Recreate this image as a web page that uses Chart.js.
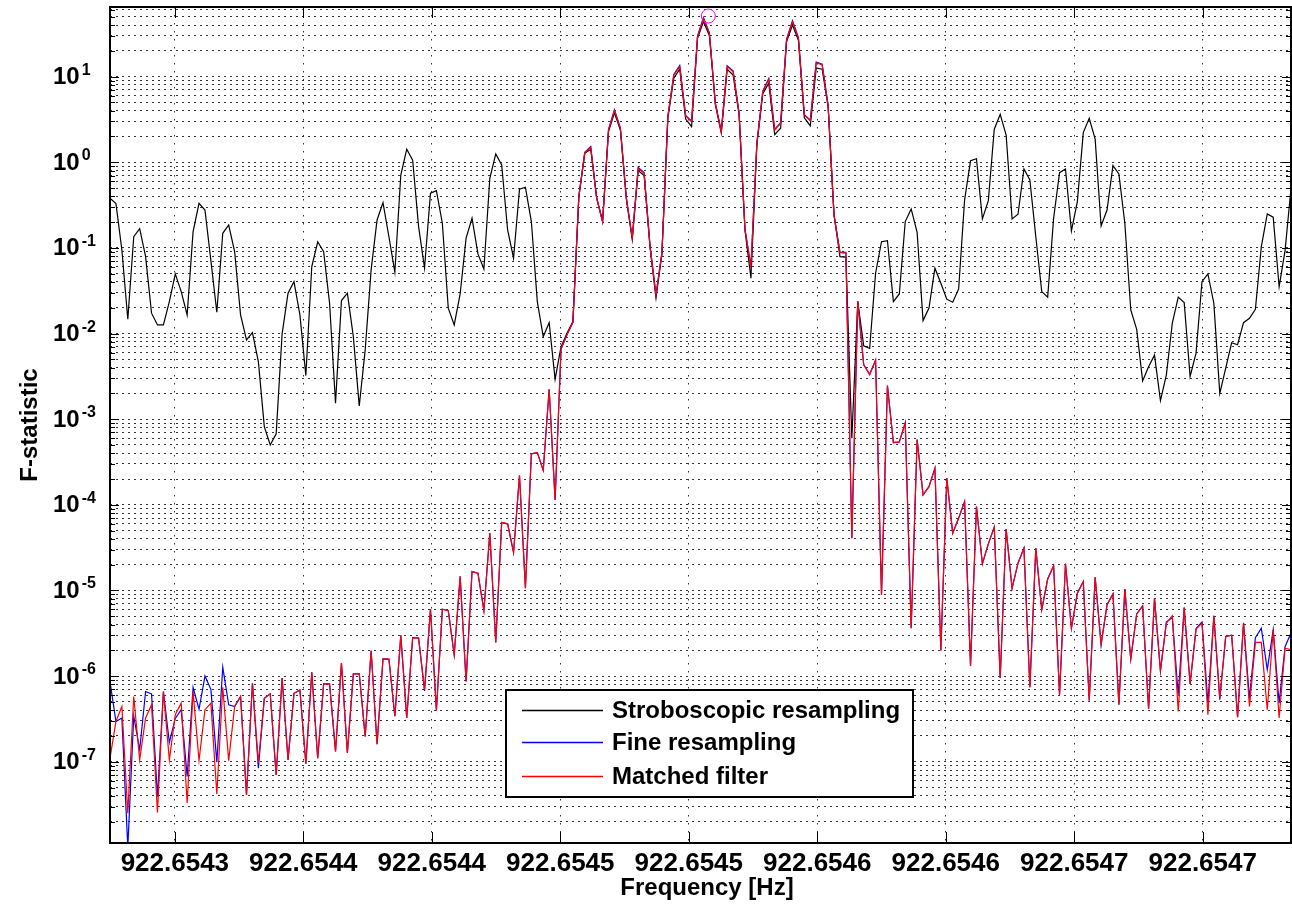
<!DOCTYPE html>
<html>
<head>
<meta charset="utf-8">
<title>F-statistic vs frequency</title>
<script src="https://cdn.jsdelivr.net/npm/chart.js@4.4.1/dist/chart.umd.min.js"></script>
<style>
  html, body { margin: 0; padding: 0; background: #fff; overflow: hidden; }
  #wrap { width: 1292px; height: 909px; }
  canvas { display: block; }
</style>
</head>
<body>
<div id="wrap"><canvas id="myChart" width="1292" height="909"></canvas></div>
<script>
// frequency grid: offset from 922.6543 Hz in micro-Hz
const freqStart = -25.24;
const freqStep = 2.3095;

// x tick positions (micro-Hz above 922.6543 Hz) and their printed labels
const tickOffsets = [0, 50, 100, 150, 200, 250, 300, 350, 400];
const tickLabels = ['922.6543', '922.6544', '922.6544', '922.6545', '922.6545',
                    '922.6546', '922.6546', '922.6547', '922.6547'];

const seriesNames = ['Stroboscopic resampling', 'Fine resampling', 'Matched filter'];
const seriesColors = ['#000000', '#0000ff', '#ff0000'];

// Stroboscopic resampling
const stroboValues = [
  0.38, 0.33, 0.095, 0.0147, 0.135, 0.168, 0.079, 0.0173, 0.0126, 0.0126,
  0.0236, 0.0497, 0.0309, 0.0165, 0.155, 0.332, 0.277, 0.071, 0.0177, 0.148,
  0.185, 0.0905, 0.0165, 0.00843, 0.01026, 0.00471, 0.00082, 0.0005, 0.000674, 0.0099,
  0.0296, 0.0404, 0.0165, 0.00323, 0.0605, 0.118, 0.0905, 0.0226, 0.00154, 0.0243,
  0.0296, 0.0092, 0.00143, 0.00644, 0.0553, 0.212, 0.338, 0.135, 0.052, 0.71,
  1.42, 1.06, 0.177, 0.058, 0.435, 0.466, 0.194, 0.0198, 0.0126, 0.029,
  0.13, 0.222, 0.085, 0.0568, 0.65, 1.25, 0.93, 0.162, 0.0758, 0.484,
  0.51, 0.203, 0.0236, 0.0092, 0.0134, 0.00293, 0.00704, 0.0101, 0.0138, 0.397,
  1.27, 1.42, 0.38, 0.203, 2.28, 3.79, 2.38, 0.37, 0.125, 0.8,
  0.70, 0.10, 0.026, 0.085, 3.3, 9.6, 12.2, 3.2, 2.6, 28,
  44, 30, 4.7, 2.2, 12.2, 10.4, 3.6, 0.16, 0.0443, 1.6,
  6.3, 8.4, 2.1, 2.5, 25.5, 40, 26.5, 3.3, 2.66, 12.6,
  12.2, 4.5, 0.243, 0.079, 0.078, 0.0006, 0.0236, 0.0072, 0.0067, 0.0506,
  0.118, 0.1216, 0.0236, 0.029, 0.203, 0.285, 0.152, 0.01416, 0.0198, 0.058,
  0.0387, 0.0252, 0.0232, 0.0332, 0.363, 1.04, 1.10, 0.218, 0.356, 2.43,
  3.63, 2.08, 0.218, 0.247, 0.835, 0.621, 0.135, 0.0309, 0.0266, 0.222,
  0.756, 0.835, 0.158, 0.347, 2.22, 3.26, 1.86, 0.18, 0.277, 0.912,
  0.73, 0.194, 0.0189, 0.0112, 0.0028, 0.0041, 0.0056, 0.00165, 0.0033, 0.0132,
  0.0266, 0.023, 0.00315, 0.0059, 0.0404, 0.0497, 0.0226, 0.0020, 0.00394, 0.0078,
  0.0074, 0.0134, 0.0151, 0.0192, 0.1035, 0.249, 0.228, 0.0353, 0.093, 0.497
];

// Fine resampling
const fineValues = [
  8.6e-7, 2.95e-7, 3.24e-7, 1.0e-8, 3.4e-7, 1.38e-7, 6.6e-7, 6.2e-7, 3.9e-8, 6.6e-7,
  1.68e-7, 3.2e-7, 4.05e-7, 6.75e-8, 7.4e-7, 4.1e-7, 1.0e-6, 7.0e-7, 9.9e-8, 1.27e-6,
  4.63e-7, 4.42e-7, 5.78e-7, 4.1e-8, 8.3e-7, 8.4e-8, 5.5e-7, 6.2e-7, 7.0e-8, 9.5e-7,
  1.05e-7, 6.3e-7, 6.9e-7, 9.5e-8, 1.11e-6, 1.1e-7, 8.1e-7, 8.1e-7, 1.32e-7, 1.42e-6,
  1.27e-7, 1.06e-6, 1.06e-6, 1.97e-7, 1.98e-6, 1.6e-7, 1.59e-6, 1.58e-6, 3.4e-7, 3.0e-6,
  3.24e-7, 2.82e-6, 2.78e-6, 6.7e-7, 6.05e-6, 3.97e-7, 6.05e-6, 5.8e-6, 1.77e-6, 1.46e-5,
  8.65e-7, 1.66e-5, 1.59e-5, 5.83e-6, 4.67e-5, 2.47e-6, 6.21e-5, 6.0e-5, 2.77e-5, 2.2e-4,
  1.06e-5, 3.94e-4, 4.07e-4, 2.53e-4, 2.24e-3, 1.14e-4, 0.0066, 0.0097, 0.0135, 0.40,
  1.31, 1.53, 0.39, 0.205, 2.42, 4.1, 2.52, 0.39, 0.132, 0.87,
  0.76, 0.105, 0.0285, 0.088, 3.46, 10.6, 13.5, 3.52, 3.02, 29.8,
  49, 32.5, 4.95, 2.31, 13.4, 11.6, 3.78, 0.164, 0.061, 1.69,
  6.8, 9.5, 2.42, 2.9, 27.3, 45, 28.5, 3.6, 3.1, 14.8,
  14.0, 4.65, 0.243, 0.089, 0.089, 4.1e-5, 0.0238, 4.35e-3, 3.35e-3, 4.9e-3,
  8.9e-6, 2.47e-3, 5.35e-4, 5.45e-4, 9.1e-4, 3.63e-6, 5.8e-4, 1.31e-4, 1.63e-4, 2.68e-4,
  1.99e-6, 2.05e-4, 4.67e-5, 7.0e-5, 1.09e-4, 1.32e-6, 9.55e-5, 2.05e-5, 3.5e-5, 5.49e-5,
  9.5e-7, 5.2e-5, 1.06e-5, 2.08e-5, 3.12e-5, 7.4e-7, 3.12e-5, 5.94e-6, 1.36e-5, 1.94e-5,
  6.05e-7, 2.05e-5, 3.63e-6, 9.3e-6, 1.27e-5, 5.2e-7, 1.43e-5, 2.3e-6, 6.8e-6, 9.1e-6,
  4.63e-7, 1.04e-5, 1.58e-6, 5.33e-6, 6.6e-6, 4.12e-7, 8.1e-6, 1.15e-6, 4.3e-6, 4.8e-6,
  6.05e-7, 6.3e-6, 8.1e-7, 3.6e-6, 4.3e-6, 4.84e-7, 5.06e-6, 5.3e-7, 2.9e-6, 3.0e-6,
  3.32e-7, 4.2e-6, 5.5e-7, 2.8e-6, 3.63e-6, 1.19e-6, 3.47e-6, 4.84e-7, 2.2e-6, 3.18e-6
];

// Matched filter
const matchedValues = [
  1.1e-7, 2.95e-7, 4.42e-7, 2.5e-8, 5.78e-7, 1.05e-7, 3.24e-7, 4.63e-7, 2.56e-8, 6.6e-7,
  1.05e-7, 3.54e-7, 4.84e-7, 3.3e-8, 6.6e-7, 1.03e-7, 4.05e-7, 4.84e-7, 4.2e-8, 7.4e-7,
  1.03e-7, 4.42e-7, 5.78e-7, 4.1e-8, 8.3e-7, 9.7e-8, 5.5e-7, 6.2e-7, 7.0e-8, 9.5e-7,
  1.05e-7, 6.3e-7, 6.9e-7, 9.5e-8, 1.11e-6, 1.1e-7, 8.1e-7, 8.1e-7, 1.32e-7, 1.42e-6,
  1.27e-7, 1.06e-6, 1.06e-6, 1.97e-7, 1.98e-6, 1.6e-7, 1.59e-6, 1.58e-6, 3.4e-7, 3.0e-6,
  3.24e-7, 2.82e-6, 2.78e-6, 6.9e-7, 6.05e-6, 3.97e-7, 6.05e-6, 5.8e-6, 1.77e-6, 1.46e-5,
  8.65e-7, 1.66e-5, 1.59e-5, 5.83e-6, 4.67e-5, 2.47e-6, 6.21e-5, 6.0e-5, 2.77e-5, 2.2e-4,
  1.06e-5, 3.94e-4, 4.07e-4, 2.53e-4, 2.24e-3, 1.14e-4, 0.0066, 0.0097, 0.0135, 0.397,
  1.29, 1.5, 0.38, 0.2, 2.38, 4.0, 2.49, 0.38, 0.13, 0.85,
  0.744, 0.1035, 0.0282, 0.0867, 3.41, 10.4, 13.1, 3.47, 2.98, 29.3,
  48, 32, 4.88, 2.28, 13.1, 11.4, 3.73, 0.162, 0.0605, 1.67,
  6.67, 9.3, 2.38, 2.85, 26.8, 44, 28, 3.56, 3.06, 14.5,
  13.7, 4.6, 0.24, 0.088, 0.087, 4.08e-5, 0.0236, 4.3e-3, 3.3e-3, 4.83e-3,
  8.9e-6, 2.45e-3, 5.3e-4, 5.4e-4, 9.0e-4, 3.63e-6, 5.8e-4, 1.31e-4, 1.63e-4, 2.68e-4,
  1.99e-6, 2.05e-4, 4.67e-5, 7.0e-5, 1.09e-4, 1.32e-6, 9.55e-5, 2.05e-5, 3.5e-5, 5.49e-5,
  9.5e-7, 5.2e-5, 1.06e-5, 2.08e-5, 3.12e-5, 7.4e-7, 3.12e-5, 5.94e-6, 1.36e-5, 1.94e-5,
  6.05e-7, 2.05e-5, 3.63e-6, 9.3e-6, 1.27e-5, 5.2e-7, 1.43e-5, 2.38e-6, 6.8e-6, 9.1e-6,
  4.63e-7, 1.04e-5, 1.58e-6, 5.33e-6, 6.6e-6, 4.12e-7, 8.1e-6, 1.15e-6, 4.16e-6, 5.06e-6,
  3.86e-7, 6.3e-6, 8.1e-7, 3.54e-6, 4.16e-6, 3.53e-7, 5.06e-6, 5.6e-7, 2.9e-6, 3.0e-6,
  3.32e-7, 4.16e-6, 4.42e-7, 2.47e-6, 2.47e-6, 4.05e-7, 3.47e-6, 3.24e-7, 2.12e-6, 2.03e-6
];

// injected signal marker (magenta circle)
const markerOffset = 207.6;
const markerValue = 51;

const xMin = freqStart;
const xMax = freqStart + (stroboValues.length - 1) * freqStep;
const yMin = 1.125e-8;
const yMax = 65;

// plot box in canvas pixels
const AREA = { left: 110, right: 1291, top: 7, bottom: 843 };

const FONT = "'Liberation Sans', Arial, Helvetica, sans-serif";

function toPoints(values) {
    return values.map((v, i) => ({ x: freqStart + i * freqStep, y: v }));
}

// every 1..9 x 10^k inside the y range, for the dotted log grid
function logTicks() {
    const out = [];
    for (let k = -8; k <= 1; k++) {
        for (let m = 1; m <= 9; m++) {
            const v = m * Math.pow(10, k);
            if (v >= yMin && v <= yMax) out.push({ value: v, major: m === 1 });
        }
    }
    return out;
}

// pin the plot box to where it sits in the figure
const areaPlugin = {
    id: 'area',
    afterLayout(chart) {
        const a = chart.chartArea;
        a.left = AREA.left; a.right = AREA.right;
        a.top = AREA.top; a.bottom = AREA.bottom;
        a.width = a.right - a.left; a.height = a.bottom - a.top;
        const xs = chart.scales.x;
        xs.left = a.left; xs.right = a.right; xs.width = a.width;
        xs.top = a.bottom; xs.bottom = chart.height; xs.height = xs.bottom - xs.top;
        xs.configure();
        const ys = chart.scales.y;
        ys.top = a.top; ys.bottom = a.bottom; ys.height = a.height;
        ys.left = 0; ys.right = a.left; ys.width = a.left;
        ys.configure();
    }
};

const framePlugin = {
    id: 'frame',
    afterDraw(chart) {
        const ctx = chart.ctx;
        const a = chart.chartArea;
        const xs = chart.scales.x;
        const ys = chart.scales.y;
        ctx.save();
        ctx.strokeStyle = '#000';
        ctx.fillStyle = '#000';

        // inward tick marks
        ctx.lineWidth = 1;
        ctx.beginPath();
        tickOffsets.forEach(v => {
            const px = Math.round(xs.getPixelForValue(v)) + 0.5;
            ctx.moveTo(px, a.bottom); ctx.lineTo(px, a.bottom - 11);
            ctx.moveTo(px, a.top); ctx.lineTo(px, a.top + 11);
        });
        logTicks().forEach(t => {
            const py = Math.round(ys.getPixelForValue(t.value)) + 0.5;
            const len = t.major ? 9 : 5;
            ctx.moveTo(a.left, py); ctx.lineTo(a.left + len, py);
            ctx.moveTo(a.right, py); ctx.lineTo(a.right - len, py);
        });
        ctx.stroke();

        // axes box
        ctx.lineWidth = 2;
        ctx.strokeRect(a.left, a.top, a.right - a.left, a.bottom - a.top);

        // y tick labels 10^k
        ctx.textAlign = 'left';
        ctx.textBaseline = 'alphabetic';
        for (let k = 1; k >= -7; k--) {
            const py = ys.getPixelForValue(Math.pow(10, k));
            ctx.font = 'bold 24px ' + FONT;
            ctx.fillText('10', 53, py + 7.5);
            const w = ctx.measureText('10').width;
            ctx.font = 'bold 16px ' + FONT;
            ctx.fillText(String(k), 53 + w + 2, py - 2);
        }

        // axis titles
        ctx.font = 'bold 24px ' + FONT;
        ctx.textAlign = 'center';
        ctx.fillText('Frequency [Hz]', 707, 895);
        ctx.save();
        ctx.translate(36.5, (a.top + a.bottom) / 2);
        ctx.rotate(-Math.PI / 2);
        ctx.fillText('F-statistic', 0, 0);
        ctx.restore();

        // legend
        const lx = 506, ly = 690, lw = 407, lh = 107;
        ctx.fillStyle = '#fff';
        ctx.fillRect(lx, ly, lw, lh);
        ctx.lineWidth = 2;
        ctx.strokeStyle = '#000';
        ctx.strokeRect(lx, ly, lw, lh);
        const rowY = [710.5, 742.5, 776.5];
        ctx.font = 'bold 24px ' + FONT;
        ctx.textAlign = 'left';
        ctx.textBaseline = 'middle';
        seriesNames.forEach((name, i) => {
            ctx.strokeStyle = seriesColors[i];
            ctx.lineWidth = 1.5;
            ctx.beginPath();
            ctx.moveTo(522, rowY[i]);
            ctx.lineTo(603, rowY[i]);
            ctx.stroke();
            ctx.fillStyle = '#000';
            ctx.fillText(name, 612, rowY[i] + 1);
        });
        ctx.restore();
    }
};

const canvas = document.getElementById('myChart');
window.myChart = new Chart(canvas.getContext('2d'), {
    type: 'line',
    data: {
        datasets: [
            {
                label: seriesNames[0],
                data: toPoints(stroboValues),
                borderColor: seriesColors[0],
                borderWidth: 1.2,
                order: 3
            },
            {
                label: seriesNames[1],
                data: toPoints(fineValues),
                borderColor: seriesColors[1],
                borderWidth: 1.2,
                order: 2
            },
            {
                label: seriesNames[2],
                data: toPoints(matchedValues),
                borderColor: seriesColors[2],
                borderWidth: 1.2,
                order: 1
            },
            {
                label: 'signal',
                data: [{ x: markerOffset, y: markerValue }],
                showLine: false,
                pointRadius: 7,
                pointBorderWidth: 1,
                pointBorderColor: '#ff00ff',
                pointBackgroundColor: 'rgba(0,0,0,0)',
                order: 0
            }
        ]
    },
    options: {
        responsive: false,
        animation: false,
        devicePixelRatio: 1,
        layout: { padding: { top: 7, right: 1, left: 0, bottom: 0 } },
        elements: {
            point: { radius: 0 },
            line: { tension: 0, borderJoinStyle: 'miter' }
        },
        plugins: {
            legend: { display: false },
            tooltip: { enabled: false }
        },
        scales: {
            x: {
                type: 'linear',
                min: xMin,
                max: xMax,
                afterBuildTicks: scale => {
                    scale.ticks = tickOffsets.map(v => ({ value: v }));
                },
                afterFit: scale => {
                    scale.height = 66;
                    scale.paddingLeft = 0;
                    scale.paddingRight = 0;
                },
                grid: { color: 'rgba(0,0,0,0.8)', lineWidth: 1, drawTicks: false },
                border: { display: false, dash: [1.5, 6.5] },
                ticks: {
                    autoSkip: false,
                    maxRotation: 0,
                    padding: 5,
                    color: '#000',
                    font: { family: FONT, size: 26, weight: 'bold' },
                    callback: (value, index) => tickLabels[index]
                }
            },
            y: {
                type: 'logarithmic',
                min: yMin,
                max: yMax,
                afterBuildTicks: scale => {
                    scale.ticks = logTicks().map(t => ({ value: t.value }));
                },
                afterFit: scale => {
                    scale.width = 110;
                    scale.paddingTop = 0;
                    scale.paddingBottom = 0;
                },
                grid: { color: 'rgba(0,0,0,0.8)', lineWidth: 1, drawTicks: false },
                border: { display: false, dash: [2, 4] },
                ticks: { display: false, autoSkip: false }
            }
        }
    },
    plugins: [areaPlugin, framePlugin]
});
</script>
</body>
</html>
